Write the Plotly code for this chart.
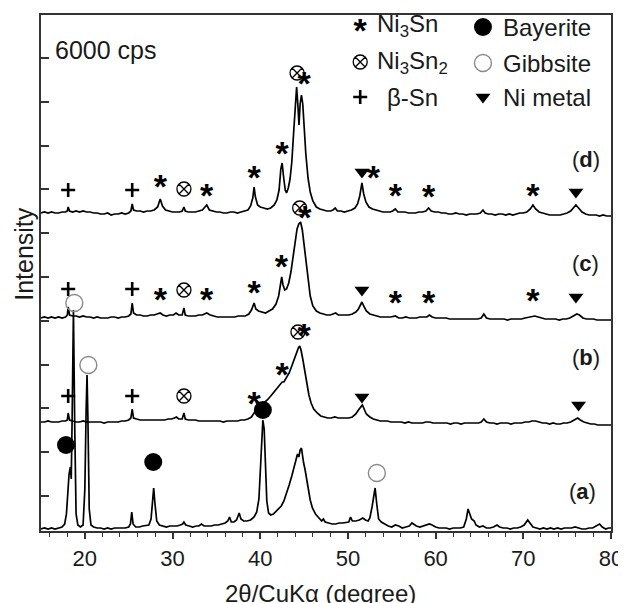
import plotly.graph_objects as go

# ---------------- data (2-theta in degrees, intensity in arbitrary units) -------------
d_pts = [(15.0,1),(15.4,2),(15.8,1),(16.2,2),(16.6,1),(17.0,1),(17.4,2),(17.8,2),(18.0,3),(18.1,7),(18.25,3),(18.6,2),(19.0,3),(19.4,2),(19.8,3),(20.2,2),(20.6,2),(21.0,1),(21.4,1),(21.8,0),(22.2,0),(22.6,1),(23.0,-1),(23.4,0),(23.8,0),(24.2,1),(24.6,0),(25.0,1),(25.25,3),(25.4,10),(25.55,4),(25.9,3),(26.3,3),(26.7,2),(27.1,3),(27.5,3),(27.9,4),(28.3,7),(28.6,15),(28.85,8),(29.2,4),(29.6,3),(30.0,2),(30.4,2),(30.8,2),(31.1,3),(31.3,7),(31.45,3),(31.8,2),(32.2,2),(32.6,2),(33.0,3),(33.4,4),(33.7,7),(33.9,9),(34.2,4),(34.6,3),(35.0,2),(35.4,2),(35.8,1),(36.2,1),(36.6,2),(37.0,2),(37.4,1),(37.8,2),(38.2,3),(38.6,4),(38.9,8),(39.15,16),(39.3,27),(39.45,17),(39.7,9),(40.0,7),(40.4,6),(40.8,5),(41.2,6),(41.6,9),(41.9,14),(42.15,24),(42.35,45),(42.5,51),(42.65,38),(42.85,24),(43.0,21),(43.2,26),(43.4,35),(43.6,52),(43.8,80),(44.0,112),(44.15,127),(44.3,108),(44.42,89),(44.55,110),(44.7,119),(44.85,110),(45.0,88),(45.2,60),(45.45,36),(45.7,22),(46.0,13),(46.4,7),(46.8,5),(47.2,4),(47.6,3),(48.0,3),(48.3,4),(48.55,6),(48.8,3),(49.2,3),(49.6,2),(50.0,3),(50.4,4),(50.8,6),(51.1,10),(51.35,18),(51.6,31),(51.8,20),(52.05,12),(52.4,7),(52.8,5),(53.2,4),(53.6,3),(54.0,2),(54.4,2),(54.8,2),(55.1,3),(55.4,5),(55.7,2),(56.1,2),(56.5,2),(56.9,1),(57.3,1),(57.7,1),(58.1,2),(58.5,2),(58.9,3),(59.2,6),(59.5,3),(59.9,2),(60.3,2),(60.7,1),(61.1,1),(61.5,0),(61.9,0),(62.3,1),(62.7,0),(63.1,0),(63.5,-1),(63.9,0),(64.3,0),(64.7,0),(65.1,1),(65.4,4),(65.65,1),(66.0,0),(66.4,0),(66.8,-1),(67.2,0),(67.6,0),(68.0,-1),(68.4,0),(68.8,-1),(69.2,0),(69.6,1),(70.0,1),(70.4,2),(70.8,5),(71.1,9),(71.4,5),(71.8,2),(72.2,1),(72.6,0),(73.0,-1),(73.4,-1),(73.8,-1),(74.2,-1),(74.6,0),(75.0,1),(75.4,3),(75.7,6),(76.0,9),(76.3,6),(76.7,2),(77.1,0),(77.5,-1),(77.9,-1),(78.3,-1),(78.7,-2),(79.1,-1),(79.5,-2),(80.0,-2)]

c_pts = [(15.0,0),(15.4,1),(15.8,0),(16.2,1),(16.6,0),(17.0,1),(17.4,0),(17.8,1),(18.0,3),(18.1,11),(18.25,3),(18.6,2),(19.0,2),(19.4,1),(19.8,2),(20.2,1),(20.6,1),(21.0,0),(21.4,1),(21.8,0),(22.2,0),(22.6,0),(23.0,1),(23.4,1),(23.8,0),(24.2,1),(24.6,1),(25.0,2),(25.25,4),(25.4,15),(25.55,5),(25.9,3),(26.3,3),(26.7,2),(27.1,2),(27.5,3),(27.9,3),(28.3,4),(28.6,5),(28.9,3),(29.3,2),(29.7,3),(30.1,3),(30.4,5),(30.7,3),(31.1,3),(31.3,10),(31.45,3),(31.8,2),(32.2,2),(32.6,2),(33.0,3),(33.4,3),(33.9,5),(34.3,3),(34.7,2),(35.1,1),(35.5,1),(35.9,1),(36.3,1),(36.7,1),(37.1,1),(37.5,2),(37.9,2),(38.3,2),(38.7,4),(39.0,8),(39.3,15),(39.5,9),(39.8,7),(40.2,6),(40.6,5),(41.0,7),(41.4,9),(41.8,14),(42.1,22),(42.3,33),(42.45,41),(42.6,33),(42.8,28),(43.0,29),(43.25,35),(43.5,46),(43.75,62),(44.0,80),(44.2,89),(44.4,94),(44.6,96),(44.8,88),(45.0,73),(45.2,55),(45.45,35),(45.7,22),(46.0,12),(46.4,7),(46.8,5),(47.2,4),(47.6,3),(48.0,3),(48.3,4),(48.6,5),(48.9,3),(49.3,3),(49.7,3),(50.1,3),(50.5,4),(50.9,6),(51.2,9),(51.4,12),(51.6,16),(51.8,12),(52.1,7),(52.5,4),(52.9,3),(53.3,2),(53.7,1),(54.1,1),(54.5,1),(54.9,1),(55.4,2),(55.8,0),(56.2,0),(56.6,1),(57.0,0),(57.4,0),(57.8,0),(58.2,1),(58.6,1),(59.0,1),(59.3,3),(59.6,1),(60.0,0),(60.4,0),(60.8,0),(61.2,0),(61.6,-1),(62.0,-1),(62.4,-1),(62.8,-1),(63.2,-1),(63.6,-1),(64.0,-1),(64.4,-1),(64.8,-1),(65.2,0),(65.5,4),(65.8,0),(66.2,-1),(66.6,-1),(67.0,-1),(67.4,-1),(67.8,-1),(68.2,-2),(68.6,-1),(69.0,-1),(69.4,-1),(69.8,-1),(70.2,0),(70.6,1),(71.0,2),(71.3,2),(71.7,1),(72.1,0),(72.5,-1),(72.9,-1),(73.3,-1),(73.7,-1),(74.1,-2),(74.5,-1),(74.9,-1),(75.3,0),(75.7,2),(76.1,4),(76.4,3),(76.8,0),(77.2,-1),(77.6,-1),(78.0,-1),(78.4,-2),(78.8,-2),(79.2,-2),(79.6,-2),(80.0,-2)]

b_pts = [(15.0,0),(15.4,0),(15.8,1),(16.2,0),(16.6,0),(17.0,0),(17.4,1),(17.8,1),(18.0,2),(18.1,9),(18.25,2),(18.6,1),(19.0,0),(19.4,0),(19.8,1),(20.2,0),(20.6,0),(21.0,0),(21.4,0),(21.8,0),(22.2,-1),(22.6,0),(23.0,0),(23.4,0),(23.8,0),(24.2,1),(24.6,1),(25.0,2),(25.25,4),(25.4,13),(25.55,4),(25.9,3),(26.3,2),(26.7,2),(27.1,2),(27.5,2),(27.9,2),(28.3,2),(28.7,2),(29.1,2),(29.5,3),(29.9,3),(30.2,4),(30.45,5),(30.7,3),(31.1,3),(31.3,9),(31.45,3),(31.8,2),(32.2,2),(32.6,2),(33.0,1),(33.4,1),(33.8,1),(34.2,1),(34.6,1),(35.0,1),(35.4,1),(35.8,0),(36.2,1),(36.6,1),(37.0,1),(37.4,1),(37.8,2),(38.2,2),(38.6,3),(39.0,5),(39.3,9),(39.6,13),(40.0,16),(40.4,19),(40.8,22),(41.2,26),(41.6,30),(42.0,34),(42.3,38),(42.5,40),(42.7,40),(43.0,44),(43.3,49),(43.6,56),(43.9,64),(44.15,70),(44.35,74),(44.5,76),(44.65,72),(44.85,63),(45.05,52),(45.3,39),(45.55,27),(45.8,19),(46.1,13),(46.5,9),(46.9,6),(47.3,5),(47.7,4),(48.1,4),(48.5,5),(48.9,4),(49.3,4),(49.7,4),(50.1,4),(50.5,5),(50.9,8),(51.2,12),(51.45,15),(51.65,17),(51.85,13),(52.1,8),(52.5,5),(52.9,3),(53.3,2),(53.7,1),(54.1,1),(54.5,1),(54.9,0),(55.3,0),(55.7,0),(56.1,0),(56.5,-1),(56.9,0),(57.3,-1),(57.7,-1),(58.1,-1),(58.5,-1),(58.9,0),(59.3,0),(59.7,-1),(60.1,-1),(60.5,-1),(60.9,-1),(61.3,-1),(61.7,-2),(62.1,-1),(62.5,-1),(62.9,-2),(63.3,-1),(63.7,-1),(64.1,-1),(64.5,-1),(64.9,-1),(65.2,0),(65.5,3),(65.8,0),(66.2,-1),(66.6,-1),(67.0,-2),(67.4,-1),(67.8,-1),(68.2,-1),(68.6,-2),(69.0,-1),(69.4,-1),(69.8,-1),(70.2,0),(70.6,0),(71.0,1),(71.4,1),(71.8,0),(72.2,-1),(72.6,-1),(73.0,-2),(73.4,-1),(73.8,-2),(74.2,-2),(74.6,-1),(75.0,-1),(75.4,0),(75.8,2),(76.2,4),(76.5,2),(76.9,0),(77.3,-1),(77.7,-2),(78.1,-2),(78.5,-3),(78.9,-3),(79.3,-3),(79.7,-3),(80.0,-3)]

a_pts = [(15.0,0),(15.4,1),(15.8,0),(16.2,1),(16.6,0),(17.0,1),(17.4,2),(17.7,5),(17.9,15),(18.05,35),(18.2,55),(18.35,62),(18.45,50),(18.55,110),(18.7,219),(18.85,100),(19.0,15),(19.2,4),(19.5,2),(19.8,4),(20.0,40),(20.15,120),(20.25,154),(20.35,110),(20.5,20),(20.7,4),(21.0,2),(21.4,1),(21.8,1),(22.2,0),(22.6,1),(23.0,0),(23.4,1),(23.8,1),(24.2,1),(24.6,1),(25.0,2),(25.2,5),(25.35,17),(25.5,5),(25.8,2),(26.2,2),(26.6,3),(27.0,4),(27.3,4),(27.55,10),(27.75,35),(27.85,41),(28.0,25),(28.2,8),(28.5,4),(28.9,3),(29.3,2),(29.7,3),(30.1,3),(30.5,3),(30.9,4),(31.15,5),(31.3,7),(31.5,4),(31.9,3),(32.3,2),(32.7,3),(33.0,3),(33.3,5),(33.6,3),(34.0,3),(34.4,3),(34.8,4),(35.2,4),(35.6,5),(36.0,6),(36.3,8),(36.5,12),(36.7,7),(37.0,7),(37.3,9),(37.6,16),(37.8,10),(38.1,8),(38.5,8),(38.9,9),(39.3,12),(39.6,17),(39.85,30),(40.0,55),(40.15,90),(40.3,109),(40.45,100),(40.6,60),(40.75,28),(40.95,16),(41.2,14),(41.5,15),(41.8,18),(42.1,21),(42.4,23),(42.7,28),(43.0,35),(43.3,44),(43.6,53),(43.9,62),(44.1,70),(44.25,75),(44.4,72),(44.55,79),(44.7,81),(44.85,68),(44.95,66),(45.1,60),(45.3,50),(45.5,39),(45.7,29),(45.95,21),(46.3,15),(46.7,11),(47.0,8),(47.2,10),(47.4,7),(47.8,6),(48.2,5),(48.6,5),(49.0,6),(49.4,6),(49.8,7),(50.1,7),(50.3,12),(50.5,8),(50.9,8),(51.3,9),(51.7,11),(52.0,9),(52.3,8),(52.5,11),(52.75,22),(52.95,36),(53.1,41),(53.3,24),(53.5,10),(53.8,7),(54.2,5),(54.6,3),(55.0,2),(55.4,4),(55.8,3),(56.2,1),(56.6,2),(57.0,3),(57.3,6),(57.5,5),(57.8,3),(58.2,2),(58.6,3),(59.0,4),(59.3,5),(59.6,4),(60.0,2),(60.4,1),(60.8,1),(61.2,1),(61.6,0),(62.0,1),(62.4,1),(62.8,1),(63.2,2),(63.5,10),(63.7,20),(63.9,14),(64.1,10),(64.4,8),(64.6,4),(65.0,2),(65.4,3),(65.8,1),(66.2,1),(66.6,2),(67.0,4),(67.3,2),(67.7,1),(68.1,1),(68.5,0),(68.9,1),(69.3,1),(69.7,2),(70.1,4),(70.5,9),(70.8,5),(71.1,2),(71.5,1),(71.9,0),(72.3,1),(72.7,0),(73.1,1),(73.5,0),(73.9,1),(74.3,0),(74.7,1),(75.1,1),(75.5,1),(75.9,2),(76.3,1),(76.7,0),(77.1,0),(77.5,1),(77.9,1),(78.3,3),(78.7,5),(79.0,2),(79.4,0),(79.7,1),(80.0,1)]

pattern_names = ["a", "b", "c", "d"]
pattern_offsets = [2, 109, 213, 317]
pattern_label_pos = [(76.8, 40), (77.1, 174), (77.1, 268), (77.1, 372)]

# phase markers (2theta, y in stacked units)
ni3sn_pts = [(28.6,350),(33.9,341),(39.3,359),(42.5,383),(45.0,453),(52.9,359),(55.4,341),(59.2,340),(71.1,341),
             (28.6,237),(33.9,237),(39.3,244),(42.4,270),(45.1,319),(55.4,234),(59.2,234),(71.1,236),
             (39.3,133),(42.5,162),(45.0,201)]
betasn_pts = [(18.1,341),(25.4,341),(18.1,242),(25.4,242),(18.1,135),(25.4,135)]
ni3sn2_pts = [(31.3,342),(44.2,458),(31.3,241),(44.5,323),(31.3,135),(44.3,199)]
nimetal_pts = [(51.6,359),(76.0,339),(51.6,241),(76.0,234),(51.6,134),(76.3,126)]
bayerite_pts = [(17.85,86),(27.8,69),(40.3,121)]
gibbsite_pts = [(18.8,228),(20.4,166),(53.3,58)]

# key entries: symbol kind, symbol position, label, label position
key_left = [("star", (51.4, 506), "Ni<sub>3</sub>Sn", (53.1, 506)),
            ("otimes", (51.4, 469), "Ni<sub>3</sub>Sn<sub>2</sub>", (53.1, 469)),
            ("plus", (51.4, 434), "β-Sn", (54.2, 434))]
key_right = [("bayerite", (65.4, 504), "Bayerite", (67.45, 504)),
             ("gibbsite", (65.4, 468), "Gibbsite", (67.45, 468)),
             ("nimetal", (65.4, 434), "Ni metal", (67.45, 434))]

# ---------------- figure -------------
FONT = "Liberation Sans, Arial, sans-serif"
INK = "#1a1a1a"
STAR_DY = 8

fig = go.Figure()

for name, pts, off in zip(pattern_names, [a_pts, b_pts, c_pts, d_pts], pattern_offsets):
    fig.add_trace(go.Scatter(x=[p[0] for p in pts], y=[p[1] + off for p in pts],
                             mode="lines", line=dict(color="black", width=1.7),
                             hoverinfo="skip", showlegend=False))

styles = {
    "plus": dict(symbol="cross-thin-open", size=10, color="black", line=dict(width=2.6, color="black")),
    "otimes": dict(symbol="circle-x-open", size=14, color="black", line=dict(width=1.3, color="black")),
    "nimetal": dict(symbol="triangle-down", size=13, color="black", line=dict(width=0)),
    "bayerite": dict(symbol="circle", size=18, color="black", line=dict(width=0)),
    "gibbsite": dict(symbol="circle-open", size=17, color="#8a8a8a", line=dict(width=1.4, color="#8a8a8a")),
}

def add_markers(kind, pts):
    if kind == "star":
        fig.add_trace(go.Scatter(x=[p[0] for p in pts], y=[p[1] - STAR_DY for p in pts],
                                 mode="text", text=["*"] * len(pts),
                                 textfont=dict(family=FONT, size=34, color="black", weight="bold"),
                                 hoverinfo="skip", showlegend=False))
    else:
        fig.add_trace(go.Scatter(x=[p[0] for p in pts], y=[p[1] for p in pts],
                                 mode="markers", marker=styles[kind],
                                 hoverinfo="skip", showlegend=False))

add_markers("star", ni3sn_pts)
add_markers("plus", betasn_pts)
add_markers("otimes", ni3sn2_pts)
add_markers("nimetal", nimetal_pts)
add_markers("bayerite", bayerite_pts)
add_markers("gibbsite", gibbsite_pts)

annotations = []
for kind, spos, label, tpos in key_left + key_right:
    add_markers(kind, [spos])
    annotations.append(dict(x=tpos[0], y=tpos[1], xref="x", yref="y", text=label, showarrow=False,
                            xanchor="left", yanchor="middle", font=dict(family=FONT, size=24, color=INK)))

for name, (lx, ly) in zip(pattern_names, pattern_label_pos):
    annotations.append(dict(x=lx, y=ly, xref="x", yref="y", text="(<b>%s</b>)" % name, showarrow=False,
                            xanchor="center", yanchor="middle", font=dict(family=FONT, size=22, color=INK)))

annotations.append(dict(x=16.4, y=481, xref="x", yref="y", text="6000 cps", showarrow=False,
                        xanchor="left", yanchor="middle", font=dict(family=FONT, size=25, color=INK)))
annotations.append(dict(x=-0.03, y=0.537, xref="paper", yref="paper", text="Intensity", showarrow=False,
                        textangle=-90, xanchor="center", yanchor="middle",
                        font=dict(family=FONT, size=25, color=INK)))
annotations.append(dict(x=0.491, y=-0.122, xref="paper", yref="paper", text="2θ/CuKα (degree)",
                        showarrow=False, xanchor="center", yanchor="middle",
                        font=dict(family=FONT, size=24, color=INK)))

# the page body adds an 8 px margin, so the figure is sized/margined to land on the window
fig.update_layout(
    template="none",
    width=618, height=595,
    margin=dict(l=33, r=15, t=7, b=72, autoexpand=False),
    paper_bgcolor="white", plot_bgcolor="white",
    showlegend=False,
    annotations=annotations,
    xaxis=dict(range=[15, 80], tick0=0, dtick=10, ticks="outside", ticklen=6, tickwidth=1.5,
               tickcolor="#333", showline=True, linecolor="#333", linewidth=1.5, mirror=True,
               showgrid=False, zeroline=False, ticklabelstandoff=1, automargin=False,
               tickfont=dict(family=FONT, size=22, color=INK),
               minor=dict(dtick=2, ticks="outside", ticklen=4, tickwidth=1.2, tickcolor="#333", showgrid=False)),
    yaxis=dict(range=[0, 516], tick0=35, dtick=43.8, ticks="inside", ticklen=8, tickwidth=1.5,
               tickcolor="#333", showline=True, linecolor="#333", linewidth=1.5, mirror=True,
               showgrid=False, zeroline=False, showticklabels=False, automargin=False),
)

fig.write_html("out.html")
